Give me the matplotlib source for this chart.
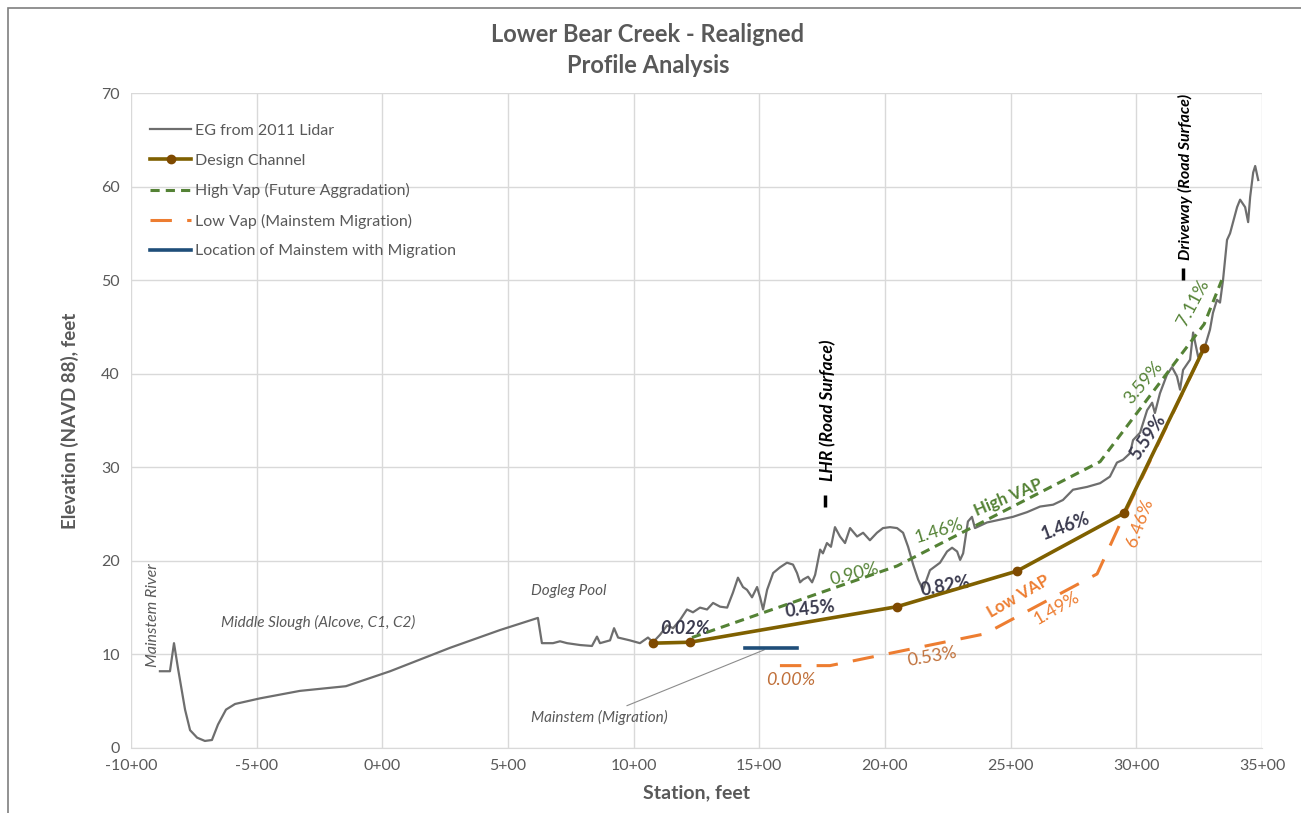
import matplotlib.pyplot as plt
from matplotlib.patches import Rectangle

plt.rcParams['font.family'] = ['Lato', 'DejaVu Sans']

# existing ground from 2011 lidar (station ft, elevation ft)
eg_sta = [-885, -845, -829, -813, -785, -765, -737, -706, -678, -654, -622, -586, -487, -328, -145,
          31, 269, 468, 619, 635, 679, 707, 735, 787, 834, 854, 866, 906, 922, 938, 985, 1025,
          1057, 1077, 1105, 1133, 1157, 1185, 1212, 1236, 1264, 1292, 1316, 1344, 1372, 1395,
          1415, 1435, 1451, 1471, 1491, 1503, 1515, 1531, 1555, 1582, 1610, 1634, 1650, 1662,
          1674, 1694, 1710, 1722, 1742, 1753, 1769, 1785, 1801, 1821, 1841, 1861, 1889, 1913,
          1940, 1968, 1992, 2020, 2048, 2072, 2092, 2112, 2132, 2151, 2179, 2219, 2247, 2267,
          2287, 2299, 2311, 2330, 2346, 2358, 2406, 2458, 2509, 2565, 2617, 2669, 2708, 2748,
          2804, 2856, 2895, 2923, 2947, 2975, 2987, 3015, 3043, 3063, 3074, 3094, 3122, 3142,
          3162, 3174, 3186, 3214, 3226, 3246, 3273, 3293, 3305, 3321, 3333, 3345, 3361, 3373,
          3385, 3401, 3413, 3433, 3445, 3453, 3465, 3473, 3485]
eg_elev = [8.2, 8.2, 11.2, 8.5, 4.1, 1.9, 1.1, 0.75, 0.85, 2.5, 4.1, 4.7, 5.3, 6.1, 6.6,
           8.2, 10.7, 12.6, 13.9, 11.2, 11.2, 11.4, 11.2, 11.0, 10.9, 11.9, 11.2, 11.5, 12.8, 11.8, 11.5, 11.2,
           11.8, 11.3, 12.1, 13.1, 12.8, 13.7, 14.8, 14.5, 15.0, 14.8, 15.5, 15.1, 15.0, 16.6,
           18.2, 17.2, 16.9, 16.1, 17.2, 16.1, 14.8, 16.9, 18.7, 19.3, 19.8, 19.6, 18.7, 17.7,
           18.0, 18.3, 17.7, 18.5, 21.2, 20.8, 21.9, 21.5, 23.6, 22.6, 21.9, 23.5, 22.6, 23.0,
           22.2, 23.0, 23.5, 23.6, 23.5, 23.0, 21.5, 19.6, 18.0, 16.9, 19.0, 19.8, 21.0, 21.4,
           21.0, 20.1, 20.8, 24.2, 24.7, 23.5, 24.1, 24.4, 24.7, 25.2, 25.8, 26.0, 26.5, 27.6,
           27.9, 28.3, 29.0, 30.5, 30.8, 31.5, 32.9, 33.7, 36.1, 36.9, 35.8, 37.9, 39.9, 40.7,
           39.7, 38.3, 40.4, 41.5, 44.4, 41.8, 42.9, 44.7, 46.5, 47.9, 47.6, 50.0, 54.3, 55.0,
           56.2, 57.8, 58.6, 57.8, 56.2, 58.9, 61.5, 62.2, 60.7]

design_sta = [1077, 1224, 2048, 2525, 2951, 3270]
design_elev = [11.2, 11.3, 15.1, 18.9, 25.1, 42.75]

high_sta = [1232, 2048, 2856, 3270, 3340]
high_elev = [11.8, 19.45, 30.6, 45.3, 50.0]

low_sta = [1582, 1781, 2398, 2844, 2955, 3270]
low_elev = [8.8, 8.8, 12.2, 18.6, 25.1, 42.75]

mainstem_sta = [1443, 1650]
mainstem_elev = [10.7, 10.7]

lhr_mark = (1761, 26.4)
driveway_mark = (3186, 50.7)

fig = plt.figure(figsize=(13.01, 8.13), dpi=100)
ax = fig.add_axes([0.1007, 0.080, 0.8693, 0.8056])
fig.patches.append(Rectangle((0.006, -0.05), 1.2, 1.04, transform=fig.transFigure,
                             fill=False, edgecolor='#7f7f7f', linewidth=1.2))

ax.plot(eg_sta, eg_elev, color='#6e6e6e', lw=1.6, label='EG from 2011 Lidar', zorder=3)
ax.plot(low_sta, low_elev, color='#ED7D31', lw=2.2, dashes=(7, 5),
        label='Low Vap (Mainstem Migration)', zorder=4)
ax.plot(high_sta, high_elev, color='#548235', lw=2.2, dashes=(3, 2),
        label='High Vap (Future Aggradation)', zorder=4)
ax.plot(design_sta, design_elev, color='#7F6000', lw=2.6, marker='o', markersize=6,
        markerfacecolor='#7F4A00', markeredgecolor='#7F4A00', label='Design Channel', zorder=5)
ax.plot(mainstem_sta, mainstem_elev, color='#1F4E79', lw=2.6,
        label='Location of Mainstem with Migration', zorder=4)

ax.plot(*lhr_mark, marker='|', color='black', markersize=9, mew=2.5, zorder=5)
ax.plot(*driveway_mark, marker='|', color='black', markersize=9, mew=2.5, zorder=5)

ax.set_xlim(-1000, 3500)
ax.set_ylim(0, 70)
ax.set_xticks(range(-1000, 3501, 500))
ax.set_xticklabels([f"{int(v / 100)}+00" for v in range(-1000, 3501, 500)])
ax.set_yticks(range(0, 71, 10))
ax.grid(True, color='#d9d9d9', lw=1)
ax.set_axisbelow(True)
for s in ['top', 'right', 'left']:
    ax.spines[s].set_visible(False)
ax.spines['bottom'].set_color('#d9d9d9')
ax.tick_params(length=0, labelsize=11.5, colors='#595959', pad=8)

ax.set_xlabel('Station, feet', fontsize=14, fontweight='bold', color='#595959', labelpad=8)
ax.set_ylabel('Elevation (NAVD 88), feet', fontsize=13.5, fontweight='bold', color='#595959', labelpad=16)
fig.suptitle('Lower Bear Creek - Realigned\nProfile Analysis', fontsize=17, fontweight='bold',
             color='#595959', x=0.498, y=0.972, linespacing=1.45)

handles, labels = ax.get_legend_handles_labels()
order = [0, 3, 2, 1, 4]
ax.legend([handles[i] for i in order], [labels[i] for i in order], loc='upper left',
          bbox_to_anchor=(0.004, 0.975), frameon=False, fontsize=11.5, labelcolor='#595959',
          handlelength=2.6, handletextpad=0.2, labelspacing=0.97)

grey = '#595959'
dark = '#3b3b4f'
green = '#548235'
orange = '#ED7D31'
ax.text(-914, 14.2, 'Mainstem River', rotation=90, style='italic', color=grey, fontsize=11.5,
        ha='center', va='center')
ax.text(-640, 13.4, 'Middle Slough (Alcove, C1, C2)', style='italic', color=grey, fontsize=11,
        ha='left', va='center')
ax.text(590, 16.8, 'Dogleg Pool', style='italic', color=grey, fontsize=11, ha='left', va='center')
ax.annotate('Mainstem (Migration)', xy=(1530, 10.6), xytext=(590, 3.3), style='italic',
            color=grey, fontsize=11, va='center',
            arrowprops=dict(arrowstyle='-', color='#8c8c8c', lw=0.8))
ax.text(1773, 36.1, 'LHR (Road Surface)', rotation=90, style='italic', fontweight='bold',
        color='black', fontsize=12.5, ha='center', va='center')
ax.text(3196, 61.0, 'Driveway (Road Surface)', rotation=90, style='italic', fontweight='bold',
        color='black', fontsize=11.5, ha='center', va='center')

ax.text(1205, 12.8, '0.02%', fontweight='bold', style='italic', color=dark, fontsize=13,
        ha='center', va='center')
ax.text(1700, 14.9, '0.45%', fontweight='bold', color=dark, fontsize=13, rotation=6,
        ha='center', va='center')
ax.text(2240, 17.3, '0.82%', fontweight='bold', color=dark, fontsize=13, rotation=10,
        ha='center', va='center')
ax.text(2720, 23.7, '1.46%', fontweight='bold', color=dark, fontsize=13, rotation=20,
        ha='center', va='center')
ax.text(3045, 33.2, '5.59%', fontweight='bold', color=dark, fontsize=13, rotation=56,
        ha='center', va='center')

ax.text(1880, 18.6, '0.90%', color=green, fontsize=13, rotation=14, ha='center', va='center')
ax.text(2215, 23.2, '1.46%', color=green, fontsize=13, rotation=17, ha='center', va='center')
ax.text(2492, 26.8, 'High VAP', color=green, fontweight='bold', fontsize=12, rotation=23,
        ha='center', va='center')
ax.text(3027, 39.0, '3.59%', color=green, fontsize=13, rotation=50, ha='center', va='center')
ax.text(3225, 47.6, '7.11%', color=green, fontsize=13, rotation=62, ha='center', va='center')

ax.text(1625, 7.3, '0.00%', color='#c0703a', style='italic', fontsize=13, ha='center', va='center')
ax.text(2190, 9.8, '0.53%', color='#c0703a', fontsize=13, rotation=10, ha='center', va='center')
ax.text(2530, 16.2, 'Low VAP', color=orange, fontweight='bold', fontsize=12, rotation=30,
        ha='center', va='center')
ax.text(2685, 14.9, '1.49%', color=orange, fontsize=13, rotation=30, ha='center', va='center')
ax.text(3015, 24.1, '6.46%', color=orange, fontsize=13, rotation=70, ha='center', va='center')

fig.savefig('out.png', dpi=100)
